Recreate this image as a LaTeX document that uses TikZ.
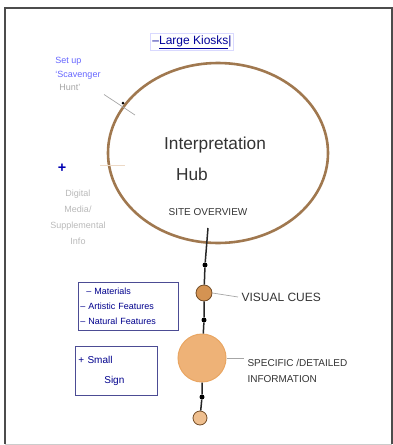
\documentclass[tikz,border=0pt]{standalone}
\usepackage{fontspec}
\setmainfont{Liberation Sans}
\usetikzlibrary{shapes.geometric}
\begin{document}
\begin{tikzpicture}[x=1pt,y=-1pt,
  hubring/.style={draw=brown!75!black!85, line width=2.6pt},
  spine/.style={draw=black!85, line width=1.5pt},
  knot/.style={circle, fill=black, inner sep=0pt, minimum size=5pt},
  bead/.style={circle, draw=brown!60!black, line width=0.8pt, fill=brown!80!orange!85, inner sep=0pt},
  bigbead/.style={circle, draw=brown!50!orange!70, line width=1pt, fill=orange!55!brown!60, inner sep=0pt, minimum size=48pt},
  lead/.style={draw=gray!70, line width=0.7pt},
  ink/.style={text=black!80, font=\large, align=left},
  blueink/.style={text=blue!55!black, font=\small, align=left},
  greyink/.style={text=gray!55, font=\small, align=center},
  boxline/.style={draw=blue!40!black!70, line width=0.7pt}
]
\useasboundingbox (0,0) rectangle (393,445);
% frame
\draw[black!70, line width=1.4pt] (5,444) -- (5,8) -- (392,8) -- (392,444);
\draw[black!20, line width=0.6pt] (5,444) -- (392,444);

% hub
\node[ellipse, minimum width=220pt, minimum height=180pt, inner sep=0pt, hubring] (hub) at (218,153) {};
\node[font=\LARGE, text=black!80] (interp) at (215,145) {Interpretation};
\node[font=\LARGE, text=black!80] (hubt) at (192,174) {Hub};
\node[font=\normalsize, text=black!80] (site) at (208,212) {SITE OVERVIEW};

% spine
\coordinate (s0) at (208,228);
\node[knot] (k1) at (205,265) {};
\node[bead, minimum size=16pt] (b1) at (204,293) {};
\node[knot] (k2) at (204,320) {};
\node[bigbead] (b2) at (202,358) {};
\node[knot] (k3) at (202,397) {};
\node[bead, minimum size=14pt, fill=brown!50!orange!50] (b3) at (200,418) {};
\draw[spine] (s0) -- (k1) -- (b1) -- (k2) -- (b2) -- (k3) -- (b3);

% labels right
\node[ink, anchor=west] (vis) at (238,297) {VISUAL CUES};
\draw[lead] (b1.east) -- (vis.west);
\node[ink, anchor=west, align=left, font=\normalsize\linespread{1.3}\selectfont] (spec) at (244,371) {SPECIFIC /DETAILED\\INFORMATION};
\draw[lead] (b2.east) -- (spec.west |- b2.east);

% left boxes
\node[boxline, draw, blueink, font=\small\linespread{1.35}\selectfont, text width=96pt, minimum height=48pt, anchor=north west, inner sep=2pt] (mat) at (78,282)
  {\hspace*{6pt}– Materials\\– Artistic Features\\– Natural Features};
\node[boxline, draw, blueink, font=\normalsize\linespread{1.6}\selectfont, text width=76pt, minimum height=49pt, anchor=north west, inner sep=3pt] (sign) at (75,346)
  {+ Small\\\hspace*{26pt}Sign};

% top label
\node[boxline, draw=blue!15, text=blue!60!black, font=\large, inner sep=2pt] (kiosk) at (192,42) {–\underline{Large Kiosks}|};

% scavenger hunt
\node[align=left, font=\small\linespread{1.25}\selectfont] (scav) at (78,74) {\textcolor{blue!60}{Set up}\\\textcolor{blue!60}{`Scavenger}\\\textcolor{gray!70}{\hspace*{4pt}Hunt'}};
\coordinate (sv) at (135,115);
\draw[lead] (scav.south east) -- (sv);
\node[knot, minimum size=3pt] (sd) at (123,103) {};

% digital media
\node[text=blue!70!black, font=\Large\bfseries] (plus) at (62,168) {+};
\coordinate (dm0) at (100,165);
\coordinate (dmr) at (125,165);
\draw[lead, draw=brown!30] (dm0) -- (dmr);
\node[greyink, font=\small\linespread{1.45}\selectfont] (dig) at (78,217) {Digital\\Media/\\Supplemental\\Info};
\end{tikzpicture}
\end{document}
